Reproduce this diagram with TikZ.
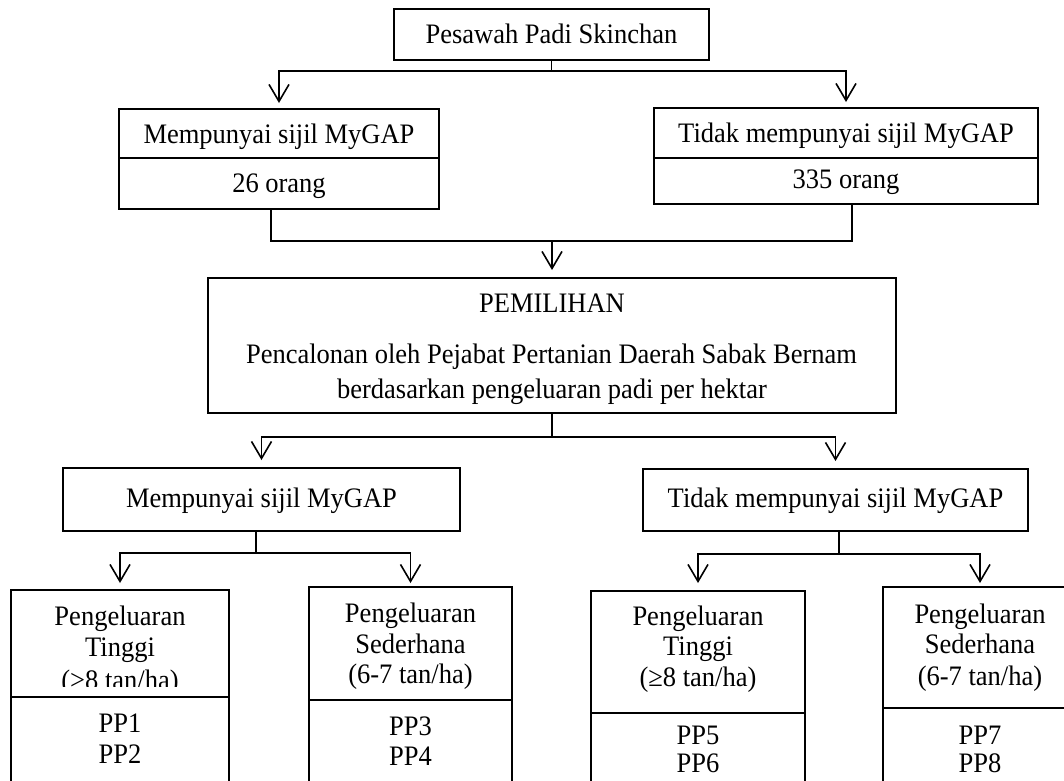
\documentclass[tikz,border=0pt]{standalone}
\usepackage{fontspec}
\setmainfont{Liberation Serif}[FakeStretch=0.94]
\usetikzlibrary{arrows.meta}
\begin{document}
\begin{tikzpicture}[x=1pt,y=-1pt,
  line width=1.2pt,
  cell/.style={draw, line width=1.2pt, anchor=north west, inner sep=0pt, outer sep=0pt, fill=white},
  txt/.style={font=\fontsize{28.2}{31}\selectfont, inner sep=0pt, anchor=base},
  arr/.style={-{Straight Barb[length=17pt,width=20pt,line width=1.6pt]}},
  line/.style={line width=1.2pt}
]
\useasboundingbox (0,0) rectangle (1064,780);

% ---------- top box
\node[cell, minimum width=315pt, minimum height=51pt] (top) at (394,9) {};
\node[txt] (ttop) at (551.5,43) {Pesawah Padi Skinchan};

% ---------- level 1
\node[cell, minimum width=320pt, minimum height=49pt] (la) at (119,109) {};
\node[cell, minimum width=320pt, minimum height=51pt] (lb) at (119,158) {};
\node[txt] (tla) at (279,143) {Mempunyai sijil MyGAP};
\node[txt] (tlb) at (279,192) {26 orang};

\node[cell, minimum width=384pt, minimum height=50pt] (ra) at (654,108) {};
\node[cell, minimum width=384pt, minimum height=46pt] (rb) at (654,158) {};
\node[txt] (tra) at (846,142) {Tidak mempunyai sijil MyGAP};
\node[txt] (trb) at (846,188) {335 orang};

\coordinate (j1) at (551.5,71);
\draw[line] (top.south) -- (j1);
\draw[arr] (j1) -| ([yshift=6pt]la.north);
\draw[arr] (j1) -| ([yshift=6pt]ra.north);

% ---------- PEMILIHAN
\node[cell, minimum width=688pt, minimum height=135pt] (pem) at (208,278) {};
\node[txt] (tp1) at (552,312) {PEMILIHAN};
\node[txt] (tp2) at (551.5,363) {Pencalonan oleh Pejabat Pertanian Daerah Sabak Bernam};
\node[txt] (tp3) at (552,398) {berdasarkan pengeluaran padi per hektar};

\coordinate (j2) at (552,241);
\draw[line] ([xshift=-8pt]lb.south) |- (j2);
\draw[line] ([xshift=6pt]rb.south) |- (j2);
\draw[arr] (j2) -- ([yshift=8pt]pem.north);

% ---------- level 2
\node[cell, minimum width=397pt, minimum height=63pt] (ma) at (63,468) {};
\node[txt] (tma) at (261.5,507) {Mempunyai sijil MyGAP};
\node[cell, minimum width=385pt, minimum height=62pt] (na) at (643,469) {};
\node[txt] (tna) at (835.5,507) {Tidak mempunyai sijil MyGAP};

\coordinate (j3) at (552,437);
\draw[line] (pem.south) -- (j3);
\draw[arr] (j3) -| ([yshift=8pt]ma.north);
\draw[arr] (j3) -| ([yshift=8pt]na.north);

% ---------- bottom boxes
\node[cell, minimum width=218pt, minimum height=107pt] (b1) at (11,590) {};
\node[cell, minimum width=203pt, minimum height=113pt] (b2) at (309,587) {};
\node[cell, minimum width=214pt, minimum height=122pt] (b3) at (591,591) {};
\node[cell, minimum width=194pt, minimum height=121pt] (b4) at (883,587) {};

\node[txt] (b1l1) at (120,625) {Pengeluaran};
\node[txt] (b1l2) at (120,656) {Tinggi};
\node[txt] (b1l3) at (120,689) {(>8 tan/ha)};
\fill[white] (12,686.5) rectangle (228,697);

\node[txt] (b2l1) at (410.5,622) {Pengeluaran};
\node[txt] (b2l2) at (410.5,653) {Sederhana};
\node[txt] (b2l3) at (410.5,683) {(6-7 tan/ha)};

\node[txt] (b3l1) at (698,625) {Pengeluaran};
\node[txt] (b3l2) at (698,655) {Tinggi};
\node[txt] (b3l3) at (698,686) {(≥8 tan/ha)};

\node[txt] (b4l1) at (980,623) {Pengeluaran};
\node[txt] (b4l2) at (980,653) {Sederhana};
\node[txt] (b4l3) at (980,685) {(6-7 tan/ha)};

\node[cell, minimum width=218pt, minimum height=100pt] (c1) at (11,697) {};
\node[cell, minimum width=203pt, minimum height=100pt] (c2) at (309,700) {};
\node[cell, minimum width=214pt, minimum height=100pt] (c3) at (591,713) {};
\node[cell, minimum width=194pt, minimum height=100pt] (c4) at (883,708) {};

\node[txt] (p1) at (120,732) {PP1};
\node[txt] (p2) at (120,763) {PP2};
\node[txt] (p3) at (410.5,735) {PP3};
\node[txt] (p4) at (410.5,765) {PP4};
\node[txt] (p5) at (698,744) {PP5};
\node[txt] (p6) at (698,772) {PP6};
\node[txt] (p7) at (980,744) {PP7};
\node[txt] (p8) at (980,772) {PP8};

\coordinate (j4) at (256,553);
\coordinate (j5) at (839,554);
\draw[line] ([xshift=-5.5pt]ma.south) -- (j4);
\draw[line] ([xshift=3.5pt]na.south) -- (j5);
\draw[arr] (j4) -| ([yshift=7pt]b1.north);
\draw[arr] (j4) -| ([yshift=4pt]b2.north);
\draw[arr] (j5) -| ([yshift=8pt]b3.north);
\draw[arr] (j5) -| ([yshift=4pt]b4.north);
\end{tikzpicture}
\end{document}
